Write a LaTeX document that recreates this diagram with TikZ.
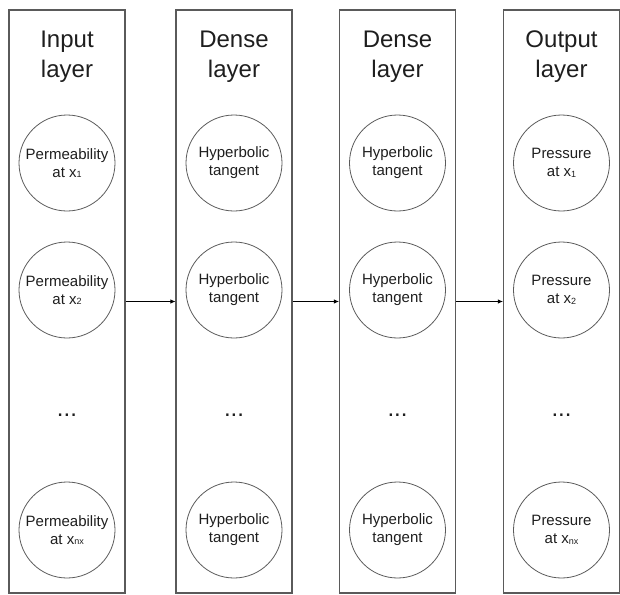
\documentclass[tikz,border=0pt]{standalone}
\usepackage{fontspec}
\setmainfont{Liberation Sans}
\usetikzlibrary{arrows.meta}
\definecolor{edge}{HTML}{5A5A5A}
\definecolor{ink}{HTML}{1E1E1E}
\newcommand{\xsub}[1]{x\raisebox{-0.5pt}{\fontsize{9}{9}\selectfont #1}}
\begin{document}
\begin{tikzpicture}[x=1pt,y=-1pt,
  layerbox/.style={draw=edge,line width=1.1pt,minimum width=116pt,minimum height=583pt,inner sep=0pt},
  neuron/.style={circle,draw=edge,line width=0.8pt,minimum size=96pt,inner sep=0pt,align=center,
    text=ink,font=\fontsize{15}{18}\selectfont},
  title/.style={align=center,text=ink,font=\fontsize{24}{30}\selectfont},
  dots/.style={text=ink,font=\fontsize{24}{24}\selectfont},
  flow/.style={draw=black,line width=0.8pt,-{Latex[length=5pt,width=4.5pt]}}]
\useasboundingbox (0,0) rectangle (620,594);
% layer frames
\node[layerbox] (b1) at (67,301.5) {};
\node[layerbox] (b2) at (234,301.5) {};
\node[layerbox] (b3) at (397.5,301.5) {};
\node[layerbox] (b4) at (561.5,301.5) {};
% layer titles
\node[title] (t1) at (67,57) {Input\\layer};
\node[title] (t2) at (234,57) {Dense\\layer};
\node[title] (t3) at (397.5,57) {Dense\\layer};
\node[title] (t4) at (561.5,57) {Output\\layer};
% input neurons
\node[neuron] (i1) at (67,163) {Permeability\\at \xsub{1}};
\node[neuron] (i2) at (67,290) {Permeability\\at \xsub{2}};
\node[dots] (i3) at (67,415) {...};
\node[neuron] (i4) at (67,530) {Permeability\\at \xsub{nx}};
% first dense layer
\node[neuron] (h1) at (234,163) {Hyperbolic\\tangent};
\node[neuron] (h2) at (234,290) {Hyperbolic\\tangent};
\node[dots] (h3) at (234,415) {...};
\node[neuron] (h4) at (234,530) {Hyperbolic\\tangent};
% second dense layer
\node[neuron] (g1) at (397.5,163) {Hyperbolic\\tangent};
\node[neuron] (g2) at (397.5,290) {Hyperbolic\\tangent};
\node[dots] (g3) at (397.5,415) {...};
\node[neuron] (g4) at (397.5,530) {Hyperbolic\\tangent};
% output neurons
\node[neuron] (o1) at (561.5,163) {Pressure\\at \xsub{1}};
\node[neuron] (o2) at (561.5,290) {Pressure\\at \xsub{2}};
\node[dots] (o3) at (561.5,415) {...};
\node[neuron] (o4) at (561.5,530) {Pressure\\at \xsub{nx}};
% connections between layers
\draw[flow] (b1.east) -- (b2.west);
\draw[flow] (b2.east) -- (b3.west);
\draw[flow] (b3.east) -- (b4.west);
\end{tikzpicture}
\end{document}
